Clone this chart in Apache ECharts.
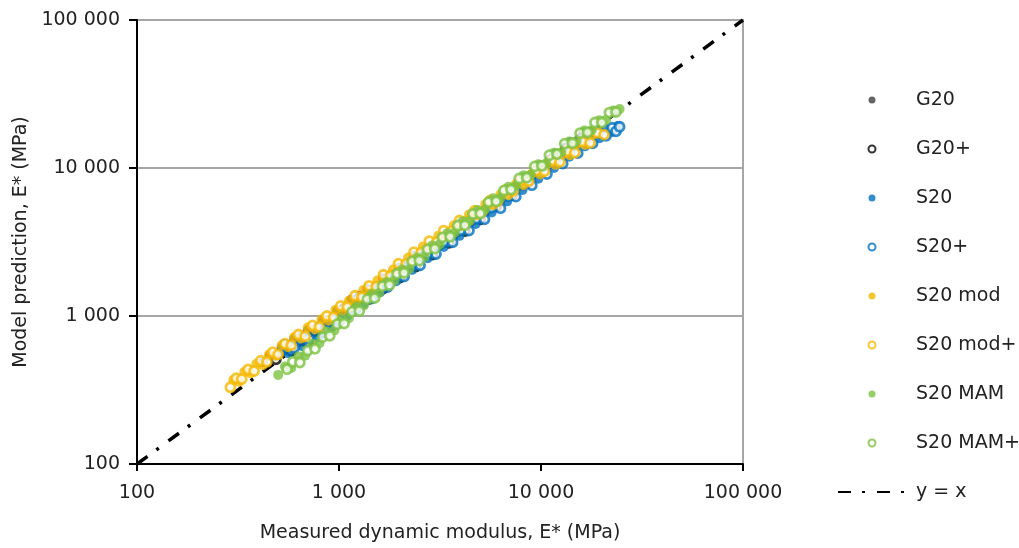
<!DOCTYPE html>
<html>
<head>
<meta charset="utf-8">
<script src="https://cdn.jsdelivr.net/npm/echarts@6/dist/echarts.min.js"></script>
<style>
  html, body { margin: 0; padding: 0; background: #fff; }
  #chart { width: 1019px; height: 548px; }
</style>
</head>
<body>
<div id="chart"></div>
<script>
// measured E* (x) vs model prediction E* (y), MPa
const G20 = [[420,487],[455,540],[480,530],[520,610],[560,620],[600,700],[650,700],[700,800],[760,790],[830,930],[900,920],[980,1090],[1050,1120],[1150,1290],[1250,1300],[1380,1520],[1500,1480],[1650,1800],[1800,1760],[1980,2120],[2150,2100],[2350,2550],[2600,2500],[2850,2960],[3100,2950],[3400,3550],[3700,3500],[4000,4250],[4400,4150],[4800,4950],[5300,5000],[5800,5950],[6300,6000],[6900,7100],[7500,7150],[8200,8600],[9000,8700],[9900,10400],[10800,10600],[11800,12500],[12800,12600],[14000,14900],[15000,15000],[16200,17400],[17500,17600]];
const G20p = [[487,509],[530,590],[580,580],[640,680],[700,660],[760,790],[820,770],[900,930],[980,910],[1060,1120],[1150,1150],[1270,1350],[1400,1300],[1520,1560],[1650,1530],[1820,1840],[2000,1820],[2200,2190],[2400,2160],[2650,2600],[2900,2600],[3200,3100],[3500,3120],[3850,3730],[4200,3750],[4600,4500],[5000,4500],[5500,5450],[6000,5500],[6600,6550],[7200,6550],[7900,7850],[8600,7900],[9400,9500],[10300,9650],[11200,11400],[12200,11600],[13300,13600],[14500,13700],[15700,15800],[17000,16000]];
const S20 = [[520,590],[560,560],[600,640],[660,625],[720,730],[790,720],[850,850],[920,840],[1000,1020],[1100,1000],[1200,1220],[1320,1200],[1450,1460],[1600,1450],[1750,1750],[1920,1720],[2100,2070],[2300,2050],[2500,2490],[2750,2460],[3000,2960],[3300,2930],[3600,3550],[3950,3480],[4300,4180],[4750,4180],[5200,5080],[5700,5000],[6200,6030],[6800,5950],[7400,7200],[8100,7100],[8900,8600],[9700,8450],[10600,10200],[11600,10000],[12700,12200],[13800,11900],[15000,14300],[16500,14000],[18000,16700],[19500,15900],[21000,18300],[22500,17500],[24000,19200]];
const S20p = [[540,640],[600,610],[650,720],[710,700],[780,830],[850,800],[930,950],[1010,940],[1100,1140],[1210,1110],[1320,1320],[1450,1310],[1580,1580],[1740,1570],[1900,1880],[2100,1850],[2300,2220],[2520,2200],[2750,2640],[3020,2620],[3300,3170],[3650,3150],[4000,3800],[4400,3780],[4800,4550],[5250,4500],[5700,5400],[6300,5350],[6900,6450],[7500,6400],[8200,7700],[9000,7650],[9800,9200],[10700,9100],[11700,10900],[12800,10700],[14000,12900],[15200,12600],[16500,15000],[18000,14700],[19500,17200],[21000,16500],[22500,18700],[23500,17700],[24500,19000]];
const S20mod = [[300,370],[320,360],[340,420],[365,410],[390,475],[420,465],[450,550],[485,540],[520,635],[560,615],[600,720],[650,705],[700,835],[760,810],[820,950],[890,930],[960,1100],[1040,1080],[1120,1270],[1220,1260],[1320,1500],[1430,1470],[1550,1740],[1700,1730],[1850,2060],[2020,2060],[2200,2480],[2400,2470],[2600,2950],[2850,2920],[3100,3480],[3400,3450],[3700,4100],[4050,4070],[4400,4850],[4850,4800],[5300,5700],[5800,5600],[6300,6650],[6900,6550],[7500,7800],[8200,7650],[9000,9150],[9900,9050],[10800,10700],[11800,10500],[12800,12400],[13900,12200],[15000,14500],[16500,14300],[18000,16800]];
const S20modp = [[290,330],[310,380],[330,375],[355,435],[380,425],[410,500],[440,490],[470,570],[500,550],[540,650],[580,635],[630,750],[680,730],[740,865],[800,845],[870,1000],[940,980],[1020,1170],[1100,1150],[1200,1370],[1300,1340],[1410,1600],[1530,1580],[1660,1900],[1800,1870],[1970,2260],[2150,2250],[2350,2700],[2550,2680],[2800,3210],[3050,3160],[3300,3780],[3600,3730],[3950,4420],[4300,4360],[4700,5150],[5100,5080],[5600,6050],[6100,5950],[6700,7100],[7300,7000],[8000,8300],[8700,8150],[9500,9650],[10400,9500],[11400,11250],[12400,11000],[13500,13000],[14700,12700],[16000,15100],[17500,14800],[19000,17300],[20500,16800]];
const S20MAM = [[500,400],[540,455],[580,445],[630,535],[680,540],[740,650],[800,655],[870,785],[950,800],[1030,950],[1120,965],[1220,1160],[1330,1180],[1450,1410],[1580,1430],[1720,1700],[1880,1740],[2050,2060],[2230,2080],[2430,2480],[2650,2510],[2900,3000],[3150,3040],[3450,3630],[3750,3670],[4100,4360],[4450,4400],[4850,5200],[5300,5270],[5800,6240],[6300,6280],[6900,7480],[7500,7550],[8200,8950],[8900,9000],[9700,10600],[10600,10750],[11600,12700],[12600,12800],[13800,15100],[15000,15200],[16400,17900],[17800,18000],[19400,21000],[21000,21200],[22800,24500],[24500,25000]];
const S20MAMp = [[553,437],[590,490],[640,485],[700,585],[760,600],[830,720],[900,735],[980,880],[1060,890],[1160,1070],[1260,1080],[1380,1300],[1500,1320],[1640,1590],[1780,1620],[1940,1930],[2100,1960],[2300,2340],[2500,2370],[2740,2820],[2980,2850],[3250,3400],[3550,3430],[3870,4080],[4200,4100],[4600,4890],[5000,4930],[5500,5880],[6000,5950],[6550,7050],[7100,7150],[7800,8500],[8500,8600],[9300,10250],[10100,10350],[11000,12200],[12000,12400],[13100,14600],[14300,14700],[15600,17200],[17000,17400],[18500,20300],[20000,20300],[21800,23700],[23500,23900]];
const identity = [[100,100],[100000,100000]];

const names = ['G20','G20+','S20','S20+','S20 mod','S20 mod+','S20 MAM','S20 MAM+'];
const colors = ['#404040','#000000','#0070c0','#0070c0','#f5b800','#f5b800','#7cc242','#7cc242'];
const sets = [G20, G20p, S20, S20p, S20mod, S20modp, S20MAM, S20MAMp];

const FONT = 'DejaVu Sans';
const fmt = (v) => String(v).replace(/\B(?=(\d{3})+(?!\d))/g, ' ');

const chart = echarts.init(document.getElementById('chart'));

const series = [{
  name: 'y = x',
  type: 'line',
  data: identity,
  symbol: 'none',
  silent: true,
  itemStyle: { color: 'rgba(0,0,0,0)' },
  lineStyle: { color: '#000', width: 3.5, type: [13, 11, 3, 12] },
  z: 1,
}];
sets.forEach((d, i) => {
  const open = names[i].endsWith('+');
  series.push({
    name: names[i],
    type: 'scatter',
    data: d,
    symbol: 'circle',
    symbolSize: open ? 9 : 10,
    itemStyle: open
      ? { color: '#fff', borderColor: colors[i], borderWidth: 2.8 }
      : { color: colors[i] },
    z: 2,
  });
});

chart.setOption({
  animation: false,
  grid: {
    left: 137, right: 276, top: 20, bottom: 83,
    show: true, borderColor: '#a6a6a6', borderWidth: 2,
  },
  legend: {
    orient: 'vertical',
    left: 832,
    top: 85,
    data: names.concat(['y = x']),
    itemWidth: 68,
    itemHeight: 7,
    itemGap: 29,
    textStyle: { fontFamily: FONT, fontSize: 19, color: '#222', lineHeight: 20, padding: [0, 0, 0, 5] },
  },
  xAxis: {
    type: 'log',
    logBase: 10,
    min: 100,
    max: 100000,
    name: 'Measured dynamic modulus, E* (MPa)',
    nameLocation: 'middle',
    nameGap: 60,
    nameTextStyle: { fontFamily: FONT, fontSize: 19, color: '#222' },
    axisLine: { lineStyle: { color: '#000', width: 2 } },
    axisTick: { length: 7, lineStyle: { color: '#000', width: 2 } },
    axisLabel: { formatter: fmt, fontFamily: FONT, fontSize: 19, color: '#222', margin: 20 },
    splitLine: { show: false },
    minorTick: { show: false },
  },
  yAxis: {
    type: 'log',
    logBase: 10,
    min: 100,
    max: 100000,
    name: 'Model prediction, E* (MPa)',
    nameLocation: 'middle',
    nameGap: 101,
    nameTextStyle: { fontFamily: FONT, fontSize: 19, color: '#222' },
    axisLine: { lineStyle: { color: '#000', width: 2 } },
    axisTick: { length: 8, lineStyle: { color: '#000', width: 2 } },
    axisLabel: { formatter: fmt, fontFamily: FONT, fontSize: 19, color: '#222', margin: 17 },
    splitLine: { show: true, lineStyle: { color: '#a6a6a6', width: 2 } },
  },
  series: series,
});
</script>
</body>
</html>
